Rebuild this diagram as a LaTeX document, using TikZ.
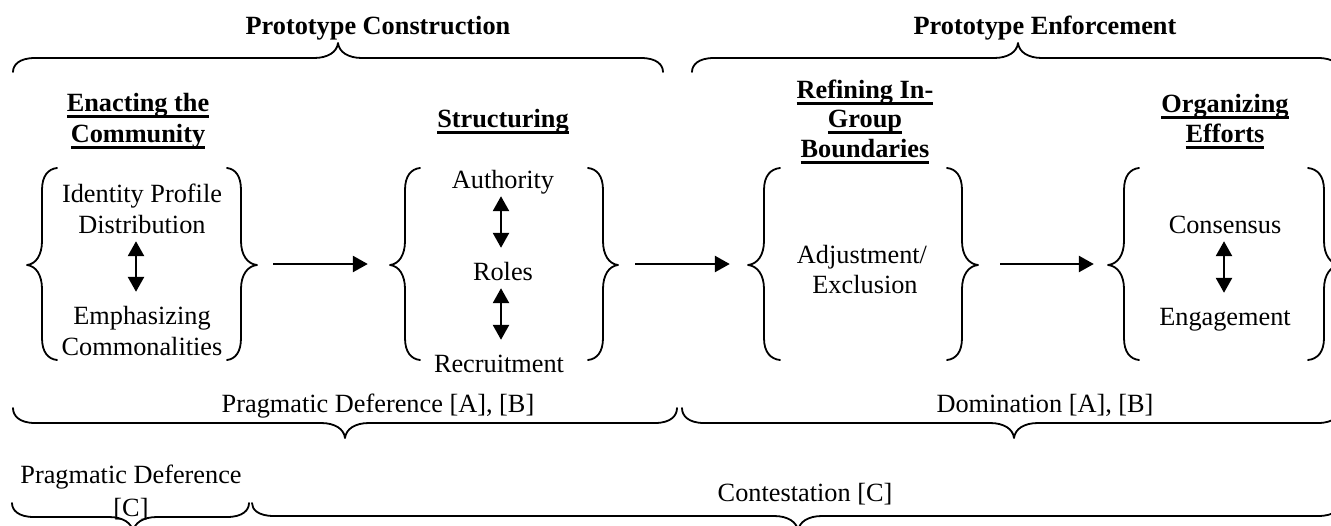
\documentclass[tikz,border=0pt]{standalone}
\usepackage{fontspec}
\setmainfont{Liberation Serif}
\usetikzlibrary{arrows.meta}
\newcommand{\myul}[1]{\setbox0\hbox{#1}\rlap{\rule[-6.5pt]{\wd0}{2.2pt}}\box0}
% horizontal brace: x1, x2, xtip, yend, yflat, ytip
\newcommand{\hbrc}[6]{%
  \draw[brc] (#1,#4) .. controls (#1,{#5+0.5*(#4-#5)}) and ({#1+6},#5) .. ({#1+22},#5)
    -- ({#3-24},#5) .. controls ({#3-10},#5) and ({#3-1},{#5+0.4*(#6-#5)}) .. (#3,#6)
    .. controls ({#3+1},{#5+0.4*(#6-#5)}) and ({#3+10},#5) .. ({#3+24},#5)
    -- ({#2-22},#5) .. controls ({#2-6},#5) and (#2,{#5+0.5*(#4-#5)}) .. (#2,#4);}
% vertical brace: xend, xvert, xtip, ytop, ybot, ytip
\newcommand{\vbrc}[6]{%
  \draw[brc] (#1,#4) .. controls ({#2+0.4*(#1-#2)},{#4+1}) and (#2,{#4+8}) .. (#2,{#4+22})
    -- (#2,{#6-24}) .. controls (#2,{#6-10}) and ({#2+0.4*(#3-#2)},{#6-1}) .. (#3,#6)
    .. controls ({#2+0.4*(#3-#2)},{#6+1}) and (#2,{#6+10}) .. (#2,{#6+24})
    -- (#2,{#5-22}) .. controls (#2,{#5-8}) and ({#2+0.4*(#1-#2)},{#5-1}) .. (#1,#5);}
\begin{document}
\begin{tikzpicture}[x=1pt,y=-1pt,
  txt/.style={font={\fontsize{26.3}{30}\selectfont}, inner sep=0pt, anchor=base},
  hd/.style={txt, font={\fontsize{26.3}{30}\selectfont\bfseries}},
  item/.style={txt, text height=18pt, text depth=6pt},
  brc/.style={line width=1.8pt, line join=round, line cap=round},
  flow/.style={line width=2.6pt, -{Triangle[length=15pt,width=16pt]}},
  both/.style={line width=2.6pt, {Triangle[length=15pt,width=16pt]}-{Triangle[length=15pt,width=16pt]}, shorten <=2pt, shorten >=14pt},
  grp/.style={minimum height=192pt, inner sep=0pt}]
\useasboundingbox (0,0) rectangle (1331,525);

% top braces and titles
\hbrc{13}{663}{338}{72}{58}{43}
\hbrc{692}{1340}{1018}{72}{58}{43}
\node[hd] (pc) at (378,34) {Prototype Construction};
\node[hd] (pe) at (1045,34) {Prototype Enforcement};

% headings
\node[hd] (h1a) at (138,111) {\myul{Enacting the}};
\node[hd] (h1b) at (138,142) {\myul{Community}};
\node[hd] (h2) at (503,127) {\myul{Structuring}};
\node[hd] (h3a) at (865,98) {\myul{Refining In-}};
\node[hd] (h3b) at (865,127) {\myul{Group}};
\node[hd] (h3c) at (865,157) {\myul{Boundaries}};
\node[hd] (h4a) at (1225,112) {\myul{Organizing}};
\node[hd] (h4b) at (1225,142) {\myul{Efforts}};

% group braces
\vbrc{57}{42}{27}{168}{360}{265}
\vbrc{227}{241}{257}{168}{360}{265}
\vbrc{420}{405}{390}{168}{360}{265}
\vbrc{588}{603}{618}{168}{360}{265}
\vbrc{780}{764}{748}{168}{360}{265}
\vbrc{947}{962}{978}{168}{360}{265}
\vbrc{1139}{1124}{1108}{168}{360}{265}
\vbrc{1308}{1324}{1340}{168}{360}{265}

\node[grp, minimum width=230pt] (g1) at (142,264) {};
\node[grp, minimum width=228pt] (g2) at (504,264) {};
\node[grp, minimum width=230pt] (g3) at (863,264) {};
\node[grp, minimum width=232pt] (g4) at (1224,264) {};

% group contents
\node[item] (ip1) at (142,202) {Identity Profile};
\node[item] (ip2) at (142,233) {Distribution};
\node[item] (em1) at (142,324) {Emphasizing};
\node[item] (em2) at (142,355) {Commonalities};
\node[item] (au) at (503,188) {Authority};
\node[item] (ro) at (503,280) {Roles};
\node[item] (re) at (499,372) {Recruitment};
\node[item] (ad) at (862,263) {Adjustment/};
\node[item] (ex) at (865,293) {Exclusion};
\node[item] (co) at (1225,233) {Consensus};
\node[item] (en) at (1225,325) {Engagement};

% connectors
\draw[both] ([xshift=-6pt]ip2.south) -- ([xshift=-6pt]em1.north);
\draw[both] ([xshift=-2pt]au.south) -- ([xshift=-2pt]ro.north);
\draw[both] ([xshift=-2pt]ro.south) -- ([xshift=2pt]re.north);
\draw[both] ([xshift=-1pt]co.south) -- ([xshift=-1pt]en.north);
\draw[flow, shorten <=16pt, shorten >=22pt] (g1.east) -- (g2.west);
\draw[flow, shorten <=17pt, shorten >=18pt] (g2.east) -- (g3.west);
\draw[flow, shorten <=22pt, shorten >=14pt] (g3.east) -- (g4.west);

% bottom braces and labels
\hbrc{13}{677}{345}{408}{423}{438}
\hbrc{682}{1340}{1014}{408}{423}{438}
\hbrc{12}{249}{133}{503}{517}{532}
\hbrc{252}{1340}{798}{503}{516}{531}
\node[txt] (pd1) at (378,412) {Pragmatic Deference [A], [B]};
\node[txt] (dom) at (1045,412) {Domination [A], [B]};
\node[txt] (pd2) at (131,483) {Pragmatic Deference};
\node[txt] (pd2c) at (131,516) {[C]};
\node[txt] (con) at (805,501) {Contestation [C]};
\end{tikzpicture}
\end{document}
